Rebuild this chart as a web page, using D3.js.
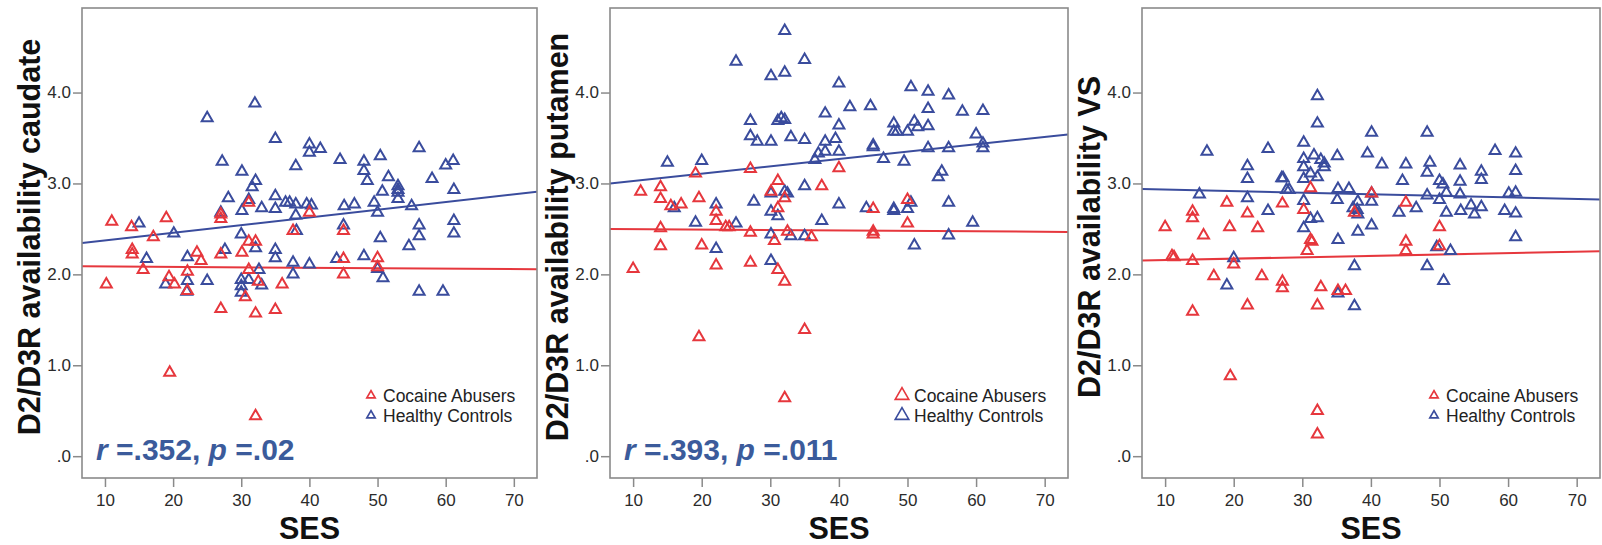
<!DOCTYPE html>
<html>
<head>
<meta charset="utf-8">
<script src="https://cdn.jsdelivr.net/npm/d3@7"></script>
<style>
  body { margin: 0; background: #fff; }
  svg { display: block; }
</style>
</head>
<body>
<svg id="chart" width="1602" height="545"></svg>
<script>
// ---- data ----
const sesTicks = [10, 20, 30, 40, 50, 60, 70];
const valueTicks = [0, 1, 2, 3, 4];
const regionTitles = ["D2/D3R availability caudate", "D2/D3R availability putamen", "D2/D3R availability VS"];
const groupNames = ["Cocaine Abusers", "Healthy Controls"];
const statTexts = [["r", " =.352, ", "p", " =.02"], ["r", " =.393, ", "p", " =.011"], null];

// [SES, D2/D3R availability]
const caudateAbusers = [[10.2,1.89],[11,2.58],[13.9,2.52],[14,2.27],[14,2.22],[15.6,2.05],[17.1,2.41],[19,2.62],[19.4,1.97],[20.2,1.89],[19.5,0.92],[22.1,2.03],[22.1,1.82],[23.5,2.24],[24.1,2.15],[27,2.66],[27,2.61],[27,2.22],[27,1.62],[30.1,2.24],[30.6,1.75],[31.1,2.79],[31.1,2.36],[32.1,2.36],[31.1,2.05],[32.1,1.57],[32.5,1.92],[32.1,0.44],[35,1.61],[36,1.89],[37.6,2.48],[40,2.68],[45,2.48],[45,2.17],[45,2.0],[50,2.18],[50,2.08]];
const caudateControls = [[32,3.88],[25,3.72],[35,3.49],[40,3.43],[40,3.34],[41.6,3.38],[56.1,3.39],[27.2,3.24],[44.5,3.26],[48,3.24],[50.4,3.30],[60,3.20],[61.1,3.25],[38,3.19],[30.1,3.13],[48,3.14],[48.5,3.03],[51.6,3.07],[58,3.05],[32.1,3.03],[31.6,2.96],[53,2.97],[53,2.93],[53,2.90],[50.7,2.91],[61.2,2.93],[28.1,2.84],[35,2.86],[53,2.83],[31.1,2.82],[33,2.73],[35,2.72],[36.5,2.79],[37.1,2.79],[38,2.77],[39.6,2.77],[40.3,2.76],[46.6,2.77],[45.1,2.75],[49.5,2.79],[55,2.75],[50,2.68],[30.1,2.70],[27,2.68],[38,2.65],[56.1,2.54],[61.2,2.59],[61.2,2.45],[56.1,2.42],[45,2.54],[15,2.56],[20.1,2.45],[30,2.44],[38.1,2.48],[50.4,2.40],[54.6,2.31],[27.6,2.27],[32.1,2.29],[35,2.27],[35,2.18],[22.1,2.19],[16.1,2.17],[44,2.17],[48,2.20],[37.6,2.13],[40,2.11],[22.1,1.93],[22,1.81],[25,1.93],[18.9,1.89],[30,1.94],[30,1.87],[30,1.80],[31.1,1.94],[33,1.88],[32.6,2.05],[37.6,2.00],[50,2.06],[50.8,1.96],[56.1,1.81],[59.6,1.81]];

const putamenAbusers = [[10,2.06],[11.1,2.91],[14,2.96],[14,2.83],[14,2.51],[14,2.31],[15.5,2.75],[17,2.77],[19.1,3.11],[19.6,2.84],[19.6,1.31],[20,2.32],[22.1,2.69],[22.1,2.59],[22.1,2.10],[23.5,2.52],[24,2.52],[27.1,3.16],[27.1,2.46],[27.1,2.13],[30.1,2.91],[30.6,2.37],[31.1,3.03],[31.1,2.73],[31.1,2.05],[32.1,2.84],[32.1,1.92],[32.1,0.64],[32.5,2.47],[35,1.39],[36,2.41],[37.5,2.97],[40,3.17],[45,2.72],[45,2.47],[45,2.44],[50,2.82],[50,2.56]];
const putamenControls = [[32.1,4.68],[25,4.34],[35,4.36],[30.1,4.18],[32.1,4.22],[40,4.10],[50.5,4.06],[53,4.01],[56,3.97],[41.6,3.84],[44.6,3.85],[53,3.82],[58,3.79],[61,3.80],[38,3.77],[27.1,3.69],[31.6,3.72],[32.1,3.70],[31.1,3.69],[40,3.64],[48,3.66],[48,3.57],[48.5,3.57],[51,3.68],[51.5,3.62],[53,3.63],[27.1,3.52],[28.1,3.46],[30.1,3.46],[33,3.51],[35,3.48],[39.5,3.49],[38,3.46],[38,3.35],[50,3.57],[60,3.54],[61,3.44],[61,3.39],[53,3.39],[56,3.39],[45,3.42],[45,3.40],[40,3.35],[37,3.33],[36.5,3.26],[46.5,3.27],[49.5,3.24],[55,3.13],[54.5,3.07],[15,3.23],[20,3.25],[35,2.97],[30.1,2.89],[32.1,2.91],[32.5,2.89],[27.6,2.80],[40,2.77],[44,2.73],[48,2.72],[48,2.70],[50.5,2.79],[50,2.72],[56,2.79],[22.1,2.77],[16,2.73],[19.1,2.57],[25,2.56],[30.1,2.69],[31.1,2.64],[37.5,2.59],[59.5,2.57],[30.1,2.44],[33,2.42],[35,2.42],[56,2.43],[51,2.32],[22.1,2.28],[30.1,2.15]];

const vsAbusers = [[10,2.52],[11,2.20],[11.3,2.19],[14,2.69],[14,2.62],[14,2.15],[14,1.59],[15.6,2.43],[17.1,1.98],[19,2.79],[19.4,2.52],[20,2.11],[19.5,0.88],[22,2.67],[22,1.66],[23.5,2.51],[24.1,1.98],[27.1,2.78],[27.1,1.92],[27.1,1.85],[30.2,2.71],[30.7,2.26],[31.2,2.95],[31.2,2.38],[31.4,2.36],[32.2,1.66],[32.7,1.86],[32.2,0.50],[32.2,0.24],[35.2,1.82],[36.3,1.82],[37.6,2.68],[40.1,2.89],[45.1,2.79],[45.1,2.36],[45.1,2.26],[50,2.52],[50,2.31]];
const vsControls = [[32.2,3.96],[32.2,3.66],[40.1,3.56],[48.2,3.56],[16.1,3.35],[25,3.38],[30.2,3.45],[58.1,3.36],[61.1,3.33],[39.5,3.33],[35.1,3.30],[30.2,3.27],[30.2,3.18],[31.7,3.31],[32.7,3.26],[33.2,3.22],[33.2,3.18],[41.6,3.21],[45.1,3.21],[48.6,3.23],[53,3.20],[22,3.19],[22,3.05],[27,3.06],[27.2,3.06],[30.2,3.05],[31.2,3.11],[32.2,3.07],[44.6,3.03],[48.2,3.12],[50,3.03],[50.5,2.99],[53,3.02],[56.1,3.13],[56.1,3.04],[61.1,3.14],[27.7,2.93],[28.1,2.93],[35.2,2.94],[36.8,2.94],[51,2.90],[48.2,2.87],[53,2.88],[60.1,2.89],[61.1,2.90],[40.1,2.89],[40.1,2.80],[15,2.88],[22,2.84],[30.2,2.81],[35.1,2.82],[38.1,2.80],[50,2.82],[37.4,2.73],[38,2.71],[25,2.70],[46.6,2.73],[54.6,2.76],[56.1,2.74],[55.1,2.66],[53.1,2.70],[59.5,2.70],[61.1,2.67],[44.1,2.68],[51,2.68],[38.1,2.66],[31.2,2.61],[32.2,2.62],[30.2,2.51],[40.1,2.54],[35.2,2.38],[38.1,2.47],[61.1,2.41],[49.6,2.30],[51.6,2.26],[20,2.18],[37.6,2.09],[48.2,2.09],[19,1.88],[50.6,1.93],[35.2,1.79],[37.6,1.65]];

// fitted regression lines: value = intercept + slope * SES
const abuserFitIntercept = [2.091, 2.501, 2.143];
const abuserFitSlope = [-0.00046, -0.00046, 0.0015];
const controlFitIntercept = [2.288, 2.946, 2.951];
const controlFitSlope = [0.00847, 0.00808, -0.00173];

const abuserSets = [caudateAbusers, putamenAbusers, vsAbusers];
const controlSets = [caudateControls, putamenControls, vsControls];

// ---- styling / layout ----
const RED = "#e6373d";
const BLUE = "#3a4c9d";
const STAT_BLUE = "#3b5b9b";
const FRAME = "#8a8a8a";
const FONT = "'Liberation Sans', Arial, Helvetica, sans-serif";
const panelBounds = [[82, 537], [610, 1068], [1142, 1600]];
const plotTop = 8, plotBottom = 478;
const legendMarkerSizes = [30, 80, 30];

const svg = d3.select("#chart");
svg.append("rect").attr("width", 1602).attr("height", 545).attr("fill", "#fff");

const tri = size => d3.symbol(d3.symbolTriangle, size)();

regionTitles.forEach((title, i) => {
  const [left, right] = panelBounds[i];
  const x = d3.scaleLinear().domain([6.63, 73.4]).range([left, right]);
  const y = d3.scaleLinear().domain([-0.24, 4.93]).range([plotBottom, plotTop]);
  const g = svg.append("g");

  // axes
  const xAxis = d3.axisBottom(x).tickValues(sesTicks).tickSize(9).tickPadding(5).tickFormat(d3.format("d"));
  const yAxis = d3.axisLeft(y).tickValues(valueTicks).tickSize(9).tickPadding(2)
    .tickFormat(d => d === 0 ? ".0" : d.toFixed(1));
  const gx = g.append("g").attr("transform", `translate(0,${plotBottom})`).call(xAxis);
  const gy = g.append("g").attr("transform", `translate(${left},0)`).call(yAxis);
  [gx, gy].forEach(a => {
    a.select(".domain").remove();
    a.selectAll(".tick line").attr("stroke", FRAME).attr("stroke-width", 1.5);
    a.selectAll(".tick text").attr("fill", "#2b2b2b").style("font-family", FONT).style("font-size", "17px");
  });
  gx.selectAll(".tick text").attr("dy", "0.85em");

  // clip region for the fitted lines
  const clipId = "clip" + i;
  svg.append("clipPath").attr("id", clipId).append("rect")
    .attr("x", left).attr("y", plotTop).attr("width", right - left).attr("height", plotBottom - plotTop);

  // regression lines
  const [x0, x1] = x.domain();
  const fits = [
    [abuserFitIntercept[i], abuserFitSlope[i], RED],
    [controlFitIntercept[i], controlFitSlope[i], BLUE]
  ];
  fits.forEach(([b, m, c]) => {
    g.append("line").attr("clip-path", `url(#${clipId})`)
      .attr("x1", x(x0)).attr("y1", y(b + m * x0))
      .attr("x2", x(x1)).attr("y2", y(b + m * x1))
      .attr("stroke", c).attr("stroke-width", 2);
  });

  // points: controls first, abusers on top
  const drawPoints = (data, color) => {
    g.append("g").selectAll("path").data(data).join("path")
      .attr("d", tri(52))
      .attr("transform", d => `translate(${x(d[0])},${y(d[1])})`)
      .attr("fill", "none").attr("stroke", color).attr("stroke-width", 2);
  };
  drawPoints(controlSets[i], BLUE);
  drawPoints(abuserSets[i], RED);

  // frame
  g.append("rect").attr("x", left).attr("y", plotTop)
    .attr("width", right - left).attr("height", plotBottom - plotTop)
    .attr("fill", "none").attr("stroke", FRAME).attr("stroke-width", 1.6);

  // legend
  const legendColors = [RED, BLUE];
  groupNames.forEach((name, k) => {
    const by = 401.5 + k * 20;
    const ms = legendMarkerSizes[i];
    g.append("path").attr("d", tri(ms))
      .attr("transform", `translate(${right - 166},${by - 6})`)
      .attr("fill", "none").attr("stroke", legendColors[k]).attr("stroke-width", ms > 50 ? 1.6 : 1.7);
    g.append("text").attr("x", right - 154).attr("y", by)
      .attr("fill", "#222").style("font-family", FONT).style("font-size", "17.5px")
      .text(name);
  });

  // axis titles
  g.append("text")
    .attr("transform", `translate(${left - 42},${(plotTop + plotBottom) / 2 - 6}) rotate(-90)`)
    .attr("text-anchor", "middle").attr("fill", "#111")
    .style("font-family", FONT).style("font-size", "30.5px").style("font-weight", "bold")
    .text(title);
  g.append("text")
    .attr("x", (left + right) / 2).attr("y", 539)
    .attr("text-anchor", "middle").attr("fill", "#111")
    .style("font-family", FONT).style("font-size", "30.5px").style("font-weight", "bold")
    .text("SES");

  // correlation annotation
  if (statTexts[i]) {
    const t = g.append("text").attr("x", left + 14).attr("y", 460)
      .attr("fill", STAT_BLUE).style("font-family", FONT)
      .style("font-size", "30px").style("font-weight", "bold");
    statTexts[i].forEach((s, k) => {
      t.append("tspan").style("font-style", k % 2 === 0 ? "italic" : "normal").text(s);
    });
  }
});
</script>
</body>
</html>
